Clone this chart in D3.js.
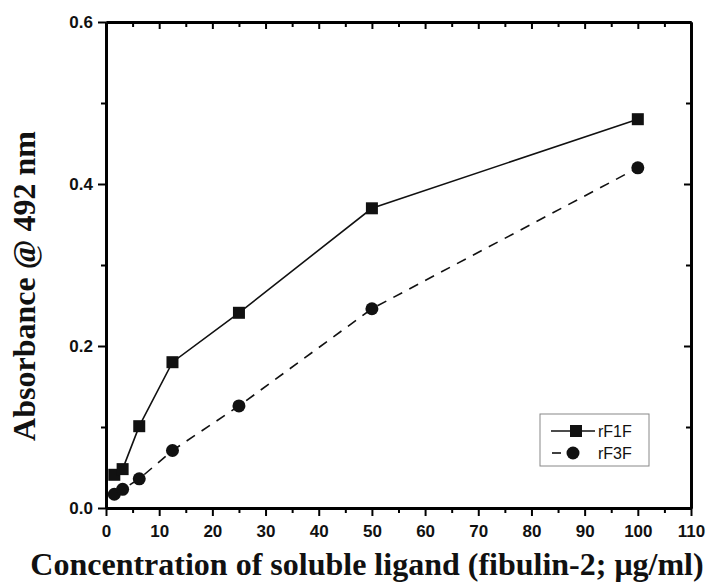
<!DOCTYPE html>
<html>
<head>
<meta charset="utf-8">
<script src="https://cdn.jsdelivr.net/npm/d3@7"></script>
<style>
body { margin: 0; background: #fff; }
</style>
</head>
<body>
<script>
// data
var conc = [1.5625, 3.125, 6.25, 12.5, 25, 50, 100];
var rF1F = [0.041, 0.048, 0.101, 0.180, 0.241, 0.370, 0.480];
var rF3F = [0.017, 0.023, 0.036, 0.071, 0.126, 0.246, 0.420];
var xTicks = [0, 10, 20, 30, 40, 50, 60, 70, 80, 90, 100, 110];
var yTicks = [0.0, 0.2, 0.4, 0.6];

var width = 709;
var height = 583;
var margin = {top: 22, right: 18, bottom: 75, left: 106};
var iw = width - margin.left - margin.right;
var ih = height - margin.top - margin.bottom;

var svg = d3.select("body")
    .append("svg")
    .attr("width", width)
    .attr("height", height);

var g = svg.append("g")
    .attr("transform", "translate(" + margin.left + "," + margin.top + ")");

var x = d3.scaleLinear().domain([0, 110]).range([0, iw]);
var y = d3.scaleLinear().domain([0, 0.6]).range([ih, 0]);

var minorX = d3.range(5, 110, 10);
var minorY = [0.1, 0.3, 0.5];

// frame ticks: outward on left/bottom, inward on top/right
function tickStyle(sel) {
    sel.select(".domain").attr("stroke-width", 2.8);
    sel.selectAll(".tick line").attr("stroke-width", 2);
    sel.selectAll(".tick text")
        .attr("font-family", "Liberation Sans, Arial, sans-serif")
        .attr("font-weight", "bold")
        .attr("font-size", 17)
        .attr("fill", "#111");
}

g.append("g")
    .attr("transform", "translate(0," + ih + ")")
    .call(d3.axisBottom(x).tickValues(xTicks).tickSize(8).tickPadding(9).tickSizeOuter(0))
    .call(tickStyle);
g.append("g")
    .attr("transform", "translate(0," + ih + ")")
    .call(d3.axisBottom(x).tickValues(minorX).tickSize(5).tickFormat("").tickSizeOuter(0))
    .call(tickStyle);

g.append("g")
    .call(d3.axisLeft(y).tickValues(yTicks).tickSize(8).tickPadding(5).tickFormat(d3.format(".1f")).tickSizeOuter(0))
    .call(tickStyle);
g.append("g")
    .call(d3.axisLeft(y).tickValues(minorY).tickSize(5).tickFormat("").tickSizeOuter(0))
    .call(tickStyle);

g.append("g")
    .call(d3.axisBottom(x).tickValues(xTicks.slice(1, -1)).tickSize(7).tickFormat("").tickSizeOuter(0))
    .call(tickStyle);
g.append("g")
    .call(d3.axisBottom(x).tickValues(minorX).tickSize(5).tickFormat("").tickSizeOuter(0))
    .call(tickStyle);

g.append("g")
    .attr("transform", "translate(" + iw + ",0)")
    .call(d3.axisRight(y).tickValues(yTicks.slice(1, -1)).tickSize(-7).tickFormat("").tickSizeOuter(0))
    .call(tickStyle);
g.append("g")
    .attr("transform", "translate(" + iw + ",0)")
    .call(d3.axisRight(y).tickValues(minorY).tickSize(-5).tickFormat("").tickSizeOuter(0))
    .call(tickStyle);

// series
var s1 = conc.map(function(c, i) { return [c, rF1F[i]]; });
var s3 = conc.map(function(c, i) { return [c, rF3F[i]]; });

var line = d3.line()
    .x(function(d) { return x(d[0]); })
    .y(function(d) { return y(d[1]); });

g.append("path")
    .datum(s1)
    .attr("fill", "none")
    .attr("stroke", "#111")
    .attr("stroke-width", 1.6)
    .attr("d", line);

g.append("path")
    .datum(s3)
    .attr("fill", "none")
    .attr("stroke", "#111")
    .attr("stroke-width", 1.6)
    .attr("stroke-dasharray", "10,8")
    .attr("d", line);

g.selectAll(".sq")
    .data(s1)
    .enter().append("rect")
    .attr("x", function(d) { return x(d[0]) - 6; })
    .attr("y", function(d) { return y(d[1]) - 6; })
    .attr("width", 12)
    .attr("height", 12)
    .attr("fill", "#111");

g.selectAll(".ci")
    .data(s3)
    .enter().append("circle")
    .attr("cx", function(d) { return x(d[0]); })
    .attr("cy", function(d) { return y(d[1]); })
    .attr("r", 6.5)
    .attr("fill", "#111");

// legend
var lg = svg.append("g").attr("transform", "translate(540,414)");
lg.append("rect")
    .attr("width", 109)
    .attr("height", 52)
    .attr("fill", "#fff")
    .attr("stroke", "#888")
    .attr("stroke-width", 1);

lg.append("line").attr("x1", 11).attr("x2", 55).attr("y1", 17).attr("y2", 17)
    .attr("stroke", "#111").attr("stroke-width", 1.6);
lg.append("rect").attr("x", 30).attr("y", 11).attr("width", 12).attr("height", 12).attr("fill", "#111");
lg.append("line").attr("x1", 12).attr("x2", 21).attr("y1", 39).attr("y2", 39)
    .attr("stroke", "#111").attr("stroke-width", 1.6);
lg.append("circle").attr("cx", 33).attr("cy", 39).attr("r", 6.5).attr("fill", "#111");

lg.selectAll(".lt")
    .data(["rF1F", "rF3F"])
    .enter().append("text")
    .attr("x", 58)
    .attr("y", function(d, i) { return 23 + i * 22; })
    .attr("font-family", "Liberation Sans, Arial, sans-serif")
    .attr("font-size", 16)
    .attr("fill", "#111")
    .text(function(d) { return d; });

// axis titles
svg.append("text")
    .attr("x", 367)
    .attr("y", 575)
    .attr("text-anchor", "middle")
    .attr("font-family", "Liberation Serif, Times New Roman, serif")
    .attr("font-weight", "bold")
    .attr("font-size", 32)
    .attr("fill", "#111")
    .text("Concentration of soluble ligand (fibulin-2; \u03bcg/ml)");

svg.append("text")
    .attr("transform", "translate(35,286) rotate(-90)")
    .attr("text-anchor", "middle")
    .attr("font-family", "Liberation Serif, Times New Roman, serif")
    .attr("font-weight", "bold")
    .attr("font-size", 32)
    .attr("fill", "#111")
    .text("Absorbance @ 492 nm");
</script>
</body>
</html>
